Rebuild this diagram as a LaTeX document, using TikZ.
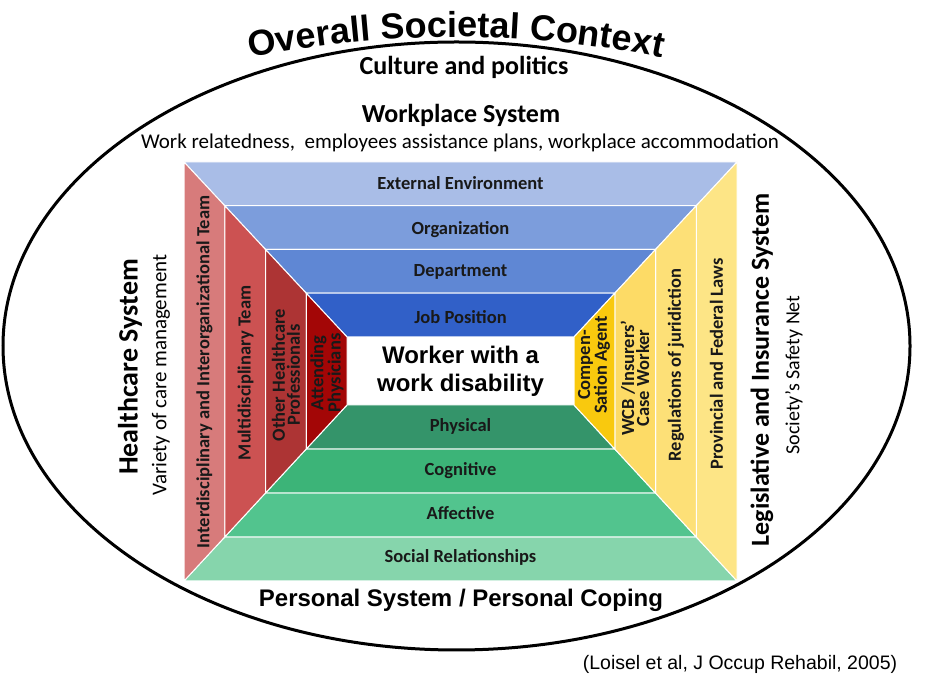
\documentclass[tikz,border=0pt]{standalone}
\usepackage{fontspec}
\setmainfont{Carlito}
\newfontfamily\arialfont{Liberation Sans}
\usetikzlibrary{decorations.text}

\definecolor{ExtEnv}{HTML}{A9BDE7}
\definecolor{Organiz}{HTML}{7C9DDC}
\definecolor{Depart}{HTML}{5F87D4}
\definecolor{JobPos}{HTML}{3160C8}
\definecolor{Physic}{HTML}{34946A}
\definecolor{Cognit}{HTML}{3CB478}
\definecolor{Affect}{HTML}{52C48E}
\definecolor{SocRel}{HTML}{86D5AC}
\definecolor{InterTeam}{HTML}{D77B7B}
\definecolor{MultiTeam}{HTML}{CC5252}
\definecolor{OtherProf}{HTML}{AD3434}
\definecolor{AttPhys}{HTML}{A30606}
\definecolor{ProvLaw}{HTML}{FDE586}
\definecolor{RegJur}{HTML}{FDE077}
\definecolor{CaseWork}{HTML}{FDDB66}
\definecolor{CompAg}{HTML}{F9C90E}

\newcommand\ttlfont{\arialfont\bfseries\fontsize{36}{40}\selectfont}

\begin{document}
\begin{tikzpicture}[x=1pt, y=1pt,
	panel/.style={draw=white, line width=1pt},
	lab/.style={font=\bfseries\fontsize{18.5}{15}\selectfont, align=center, inner sep=0pt, text=black!90},
	vlab/.style={lab, rotate=90},
	syst/.style={font=\bfseries\fontsize{26}{30}\selectfont, inner sep=0pt},
	sub/.style={font=\fontsize{21}{24}\selectfont, inner sep=0pt}]
	\fill[white] (0,0) rectangle (928,682);
	\useasboundingbox (0,0) rectangle (928,682);
	\draw[line width=3pt] (456.5,336) ellipse [x radius=453.5, y radius=304];
	\foreach \k in {0,...,4}{
		\coordinate (tl\k) at (184+40.75*\k, 520-43.75*\k);
		\coordinate (tr\k) at (737-40.75*\k, 520-43.75*\k);
		\coordinate (bl\k) at (184+40.75*\k, 101+44*\k);
		\coordinate (br\k) at (737-40.75*\k, 101+44*\k);
	}
	\foreach \k/\n/\ct/\cb/\cl/\cr in {0/1/ExtEnv/SocRel/InterTeam/ProvLaw, 1/2/Organiz/Affect/MultiTeam/RegJur, 2/3/Depart/Cognit/OtherProf/CaseWork, 3/4/JobPos/Physic/AttPhys/CompAg}{
		\filldraw[panel, fill=\ct] (tl\k) -- (tr\k) -- (tr\n) -- (tl\n) -- cycle;
		\filldraw[panel, fill=\cb] (bl\k) -- (br\k) -- (br\n) -- (bl\n) -- cycle;
		\filldraw[panel, fill=\cl] (tl\k) -- (tl\n) -- (bl\n) -- (bl\k) -- cycle;
		\filldraw[panel, fill=\cr] (tr\k) -- (tr\n) -- (br\n) -- (br\k) -- cycle;
	}
	\node[lab] (ext) at (460.5,499) {External Environment};
	\node[lab] (org) at (460.5,452) {Organization};
	\node[lab] (dept) at (460.5,410) {Department};
	\node[lab] (job) at (460.5,365) {Job Position};
	\node[lab] (phys) at (460.5,256) {Physical};
	\node[lab] (cogn) at (460.5,211) {Cognitive};
	\node[lab] (affe) at (460.5,169) {Affective};
	\node[lab] (soci) at (460.5,125) {Social Relationships};
	\node[vlab] (inter) at (204.5,310) {Interdisciplinary and Interorganizational Team};
	\node[vlab] (multi) at (245.5,309) {Multidisciplinary Team};
	\node[vlab] (other) at (286,307) {Other Healthcare\\Professionals};
	\node[vlab, font=\bfseries\fontsize{18.5}{14}\selectfont] (attend) at (327,309) {Attending\\Physicians};
	\node[vlab] (comp) at (594,317) {Compen-\\Sation Agent};
	\node[vlab] (wcb) at (635,304) {WCB /Insurers’\\Case Worker};
	\node[vlab] (reg) at (676,317) {Regulations of juridiction};
	\node[vlab] (prov) at (716.5,318) {Provincial and Federal Laws};
	\node[font=\arialfont\bfseries\fontsize{24}{28}\selectfont, align=center, inner sep=0pt] (worker) at (460.5,311) {Worker with a\\work disability};
	\node[syst] (culture) at (464,615) {Culture and politics};
	\node[syst] (work) at (461,567) {Workplace System};
	\node[sub] (workdesc) at (460,539) {Work relatedness,\ \ employees assistance plans, workplace accommodation};
	\node[syst, rotate=90, font=\bfseries\fontsize{28}{30}\selectfont] (health) at (130,315) {Healthcare System};
	\node[sub, rotate=90] (healthdesc) at (161,307) {Variety of care management};
	\node[syst, rotate=90] (legis) at (762,312) {Legislative and Insurance System};
	\node[sub, rotate=90, font=\fontsize{20}{22}\selectfont] (legisdesc) at (794,307) {Society’s Safety Net};
	\node[font=\arialfont\bfseries\fontsize{24}{28}\selectfont, inner sep=0pt] (personal) at (461,82) {Personal System / Personal Coping};
	\node[font=\arialfont\fontsize{19.5}{22}\selectfont, inner sep=0pt] (cite) at (740,18) {(Loisel et al, J Occup Rehabil, 2005)};
	\path[decorate, decoration={text along path, text={|\ttlfont|Overall Societal Context}, text align=center}] (456,-382) ++(103:1027) arc[start angle=103, end angle=77, radius=1027];
\end{tikzpicture}
\end{document}
